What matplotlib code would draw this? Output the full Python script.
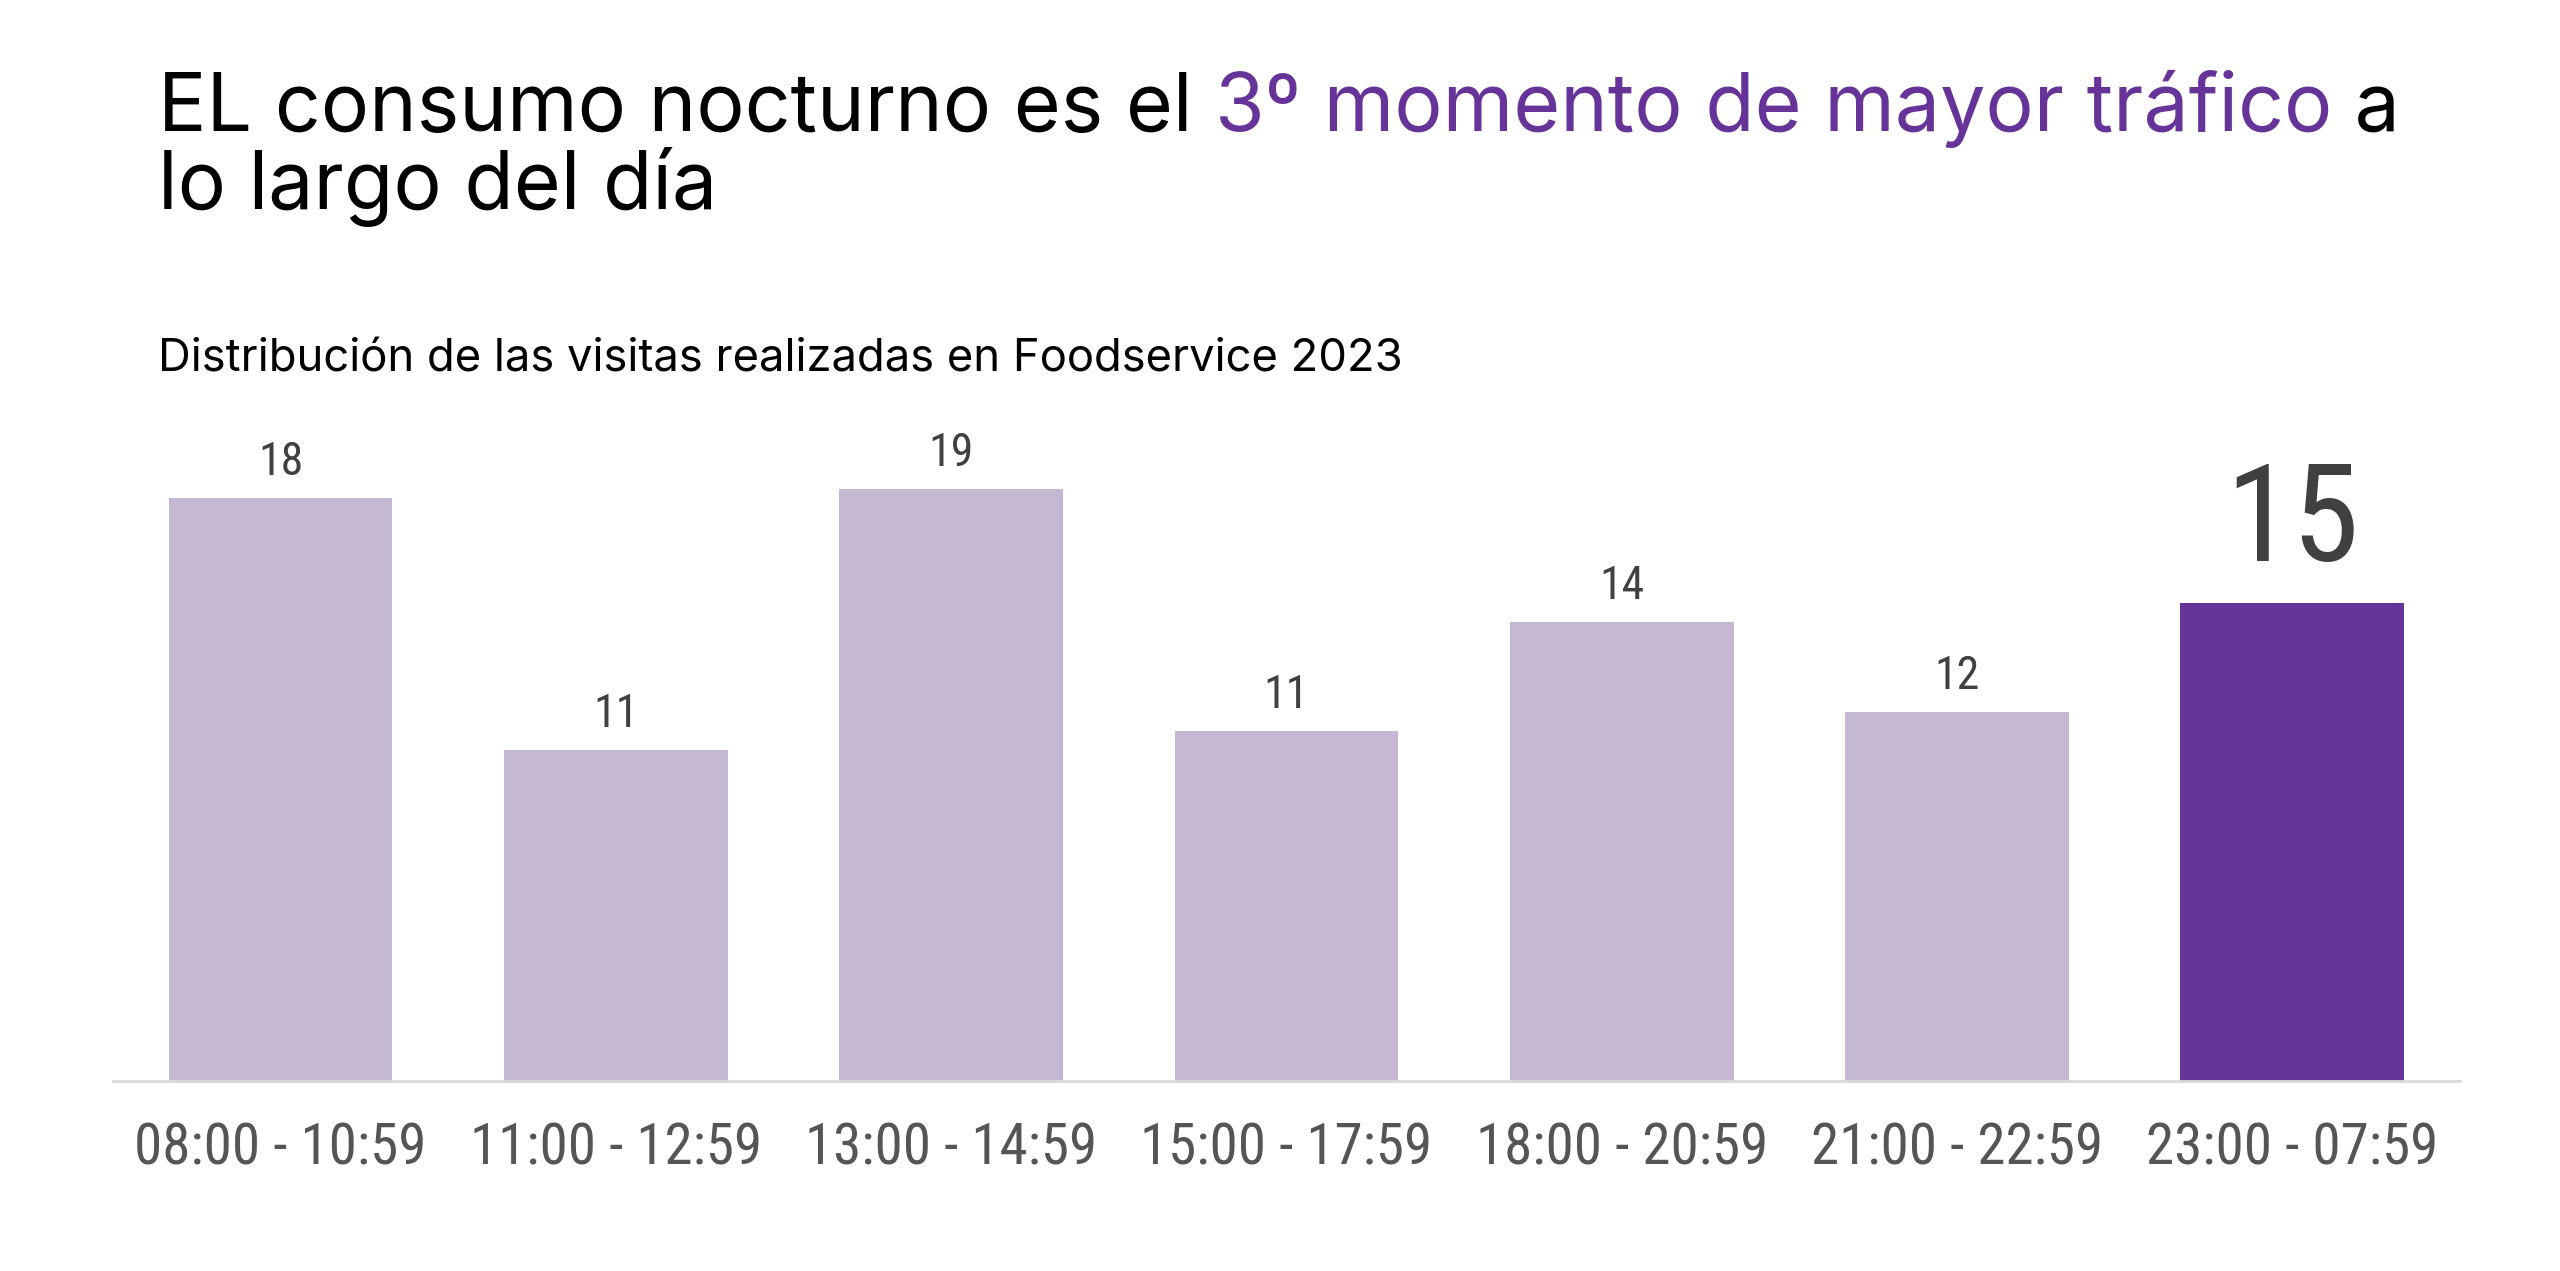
import matplotlib
matplotlib.use("Agg")
import matplotlib.pyplot as plt

# data
franjas = ["08:00 - 10:59", "11:00 - 12:59", "13:00 - 14:59", "15:00 - 17:59",
           "18:00 - 20:59", "21:00 - 22:59", "23:00 - 07:59"]
visitas = [18.3, 10.4, 18.6, 11.0, 14.4, 11.6, 15.0]
etiquetas = ["18", "11", "19", "11", "14", "12", "15"]

morado = "#663399"
lila = "#C5B8D2"
num_font = ["Roboto Condensed", "Liberation Sans Narrow", "Roboto", "DejaVu Sans"]
head_font = ["Inter", "DejaVu Sans"]

fig = plt.figure(figsize=(25.6, 12.71), dpi=100)
ax = fig.add_axes([0.0441, 0.1495, 0.9168, 0.5355])

colores = [lila] * (len(visitas) - 1) + [morado]
x = range(len(franjas))
ax.bar(x, visitas, width=0.667, color=colores)
ax.set_xlim(-0.5, 6.5)
ax.set_ylim(0, 21.37)

for i, (v, lab) in enumerate(zip(visitas, etiquetas)):
    if i == len(visitas) - 1:
        ax.annotate(lab, (i, v), xytext=(0, 42), textcoords="offset pixels",
                    ha="center", va="baseline", fontsize=98, color="#404040",
                    family=num_font, fontstretch="condensed")
    else:
        ax.annotate(lab, (i, v), xytext=(0, 23), textcoords="offset pixels",
                    ha="center", va="baseline", fontsize=33, color="#404040",
                    family=num_font, fontstretch="condensed")

ax.set_xticks(list(x))
ax.set_xticklabels(franjas, fontsize=41, color="#555555", family=num_font,
                   fontstretch="condensed")
ax.tick_params(axis="x", length=0, pad=29)
ax.set_yticks([])
for s in ["top", "right", "left"]:
    ax.spines[s].set_visible(False)
ax.spines["bottom"].set_color("#D9D9D9")
ax.spines["bottom"].set_linewidth(2)

# title with coloured middle part
W, H = 2560, 1271
fig.canvas.draw()
r = fig.canvas.get_renderer()
partes = [("EL consumo nocturno es el ", "black"),
          ("3º momento de mayor tráfico", morado),
          (" a", "black")]
xpos = 158
for txt, col in partes:
    t = fig.text(xpos / W, 1 - 131 / H, txt, fontsize=58, color=col,
                 family=head_font, va="baseline", ha="left")
    xpos += t.get_window_extent(r).width
fig.text(158 / W, 1 - 209 / H, "lo largo del día", fontsize=58, color="black",
         family=head_font, va="baseline", ha="left")

fig.text(158 / W, 1 - 372 / H, "Distribución de las visitas realizadas en Foodservice 2023",
         fontsize=32.7, color="black", family=head_font, va="baseline", ha="left")

fig.savefig("out.png", dpi=100, facecolor="white")
